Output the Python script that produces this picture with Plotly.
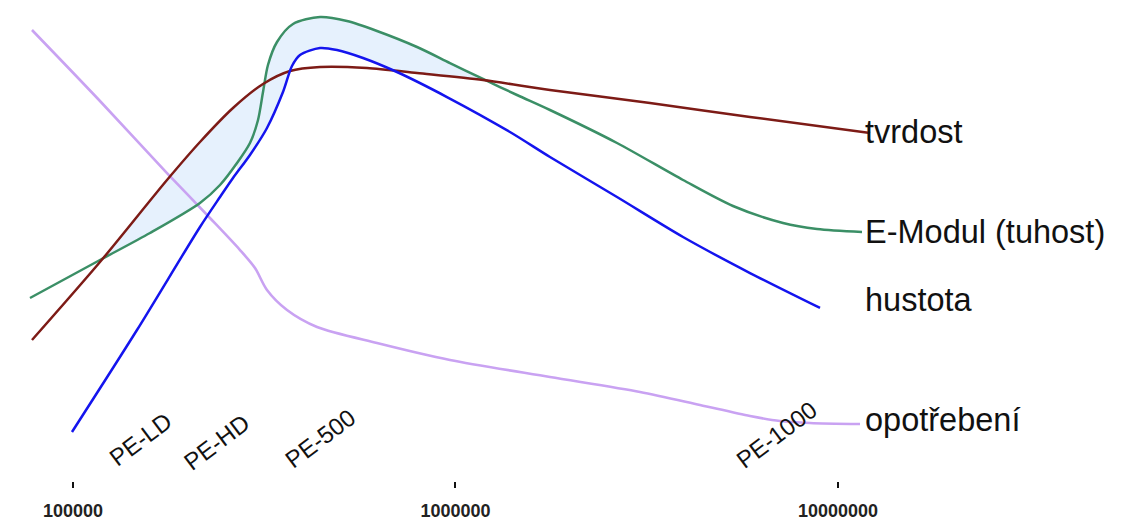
import numpy as np
import plotly.graph_objects as go

# ---- data (x: molecular weight, log axis; y: relative property value 0-100) ----
wear_x = [78130, 117640, 176100, 228100, 273300, 299100, 321500, 362700, 434500,
          623400, 967300, 1766000, 3037000, 4358000, 5888000, 7054000, 8450000, 11416000]
wear_y = [93.76, 79.0, 64.03, 54.68, 48.02, 44.28, 39.71, 35.55, 32.02,
          28.69, 25.16, 21.62, 18.50, 15.80, 13.51, 12.47, 12.06, 11.85]

emod_x = [77200, 117640, 159000, 214800, 242300, 268400, 290200, 304600, 313900, 323400,
          341500, 376000, 442400, 520300, 623400, 793300, 967300, 1180000, 1448000, 1766000,
          2644000, 3934000, 5315000, 7183000, 8814000, 11555000]
emod_y = [38.05, 45.95, 51.56, 57.80, 61.54, 66.11, 70.27, 75.05, 80.87, 86.49,
          91.27, 95.01, 96.47, 95.63, 93.56, 90.23, 86.90, 83.58, 80.25, 77.13,
          70.27, 62.58, 57.17, 53.64, 52.39, 51.77]

hard_x = [78130, 117640, 176100, 214800, 262000, 313900, 369300, 442400,
          587000, 793300, 1180000, 1766000, 3225000, 5888000, 12130000]
hard_y = [29.31, 45.53, 62.58, 70.48, 77.55, 82.54, 85.24, 86.07,
          85.86, 84.82, 83.37, 81.29, 78.59, 75.68, 72.35]

dens_x = [99400, 147000, 214800, 242300, 262000, 290200, 321500, 354000, 373700, 392200,
          442400, 490000, 573000, 703100, 950100, 1388000, 1766000, 2644000, 3934000,
          5888000, 8974000]
dens_y = [10.19, 31.39, 52.81, 59.04, 62.99, 67.78, 73.39, 80.87, 86.28, 88.57,
          90.02, 89.60, 87.94, 85.03, 79.83, 72.56, 67.36, 59.04, 50.73, 43.24, 35.97]

series_names = ["tvrdost", "E-Modul (tuhost)", "hustota", "opotřebení"]
grade_labels = ["PE-LD", "PE-HD", "PE-500", "PE-1000"]
grade_x = [149700, 236800, 442400, 6925000]
grade_y = [8.7, 8.1, 8.9, 9.6]
tick_vals = [100000, 1000000, 10000000]
tick_text = ["100000", "1000000", "10000000"]

# ---- highlighted region (derived from the curves) ----
lx = np.linspace(np.log10(100000), np.log10(1400000), 1500)
def curve(xs, ys):
    return np.interp(lx, np.log10(xs), ys)
R = curve(hard_x, hard_y)
G = curve(emod_x, emod_y)
B = curve(dens_x, dens_y)

def crossing(a, b, lo, hi):
    m = (lx >= np.log10(lo)) & (lx <= np.log10(hi))
    idx = np.where(m)[0]
    d = a[idx] - b[idx]
    s = np.where(np.sign(d[:-1]) != np.sign(d[1:]))[0]
    return lx[idx[s[0]]] if len(s) else lx[idx[np.argmin(np.abs(d))]]

x1 = crossing(R, G, 100000, 140000)
m2 = (lx >= np.log10(230000)) & (lx <= np.log10(300000))
i2 = np.where(m2)[0]
x2 = lx[i2[np.argmin((G - B)[i2])]]
x3 = crossing(R, B, 560000, 800000)
x4 = crossing(G, R, 1000000, 1350000)

sel = (lx >= x1) & (lx <= x4)
ux = lx[sel]
U = np.maximum(R, G)[sel]
L = np.where(lx < x2, G, np.where(lx < x3, B, R))[sel]
poly_x = np.concatenate([10 ** ux, 10 ** ux[::-1]])
poly_y = np.concatenate([U, L[::-1]])

fig = go.Figure()
fig.add_trace(go.Scatter(x=poly_x, y=poly_y, mode="lines", fill="toself",
                         fillcolor="#e6f1fd", line=dict(width=0), hoverinfo="skip",
                         showlegend=False))

styles = [
    (wear_x, wear_y, "#c9a2f2", 2.6, series_names[3]),
    (emod_x, emod_y, "#3b8f66", 2.5, series_names[1]),
    (hard_x, hard_y, "#7d1b16", 2.5, series_names[0]),
    (dens_x, dens_y, "#1414ee", 2.5, series_names[2]),
]
for xs, ys, col, w, nm in styles:
    fig.add_trace(go.Scatter(x=xs, y=ys, mode="lines", name=nm,
                             line=dict(color=col, width=w, shape="spline", smoothing=0.8),
                             showlegend=False))

# right-hand series labels
label_y = [72.6, 51.8, 37.7, 12.7]
for nm, yy in zip(series_names, label_y):
    fig.add_annotation(x=7.066, y=yy, xref="x", yref="y", text=nm, showarrow=False,
                       xanchor="left", yanchor="middle",
                       font=dict(family="Liberation Sans, Arial", size=32.5, color="#111111"))

# grade labels
for t, gx, gy in zip(grade_labels, grade_x, grade_y):
    fig.add_annotation(x=np.log10(gx), y=gy, xref="x", yref="y", text=t, showarrow=False,
                       textangle=-37, xanchor="center", yanchor="middle",
                       font=dict(family="Liberation Sans, Arial", size=24, color="#111111"))

# axis baseline between first and last tick
fig.add_shape(type="line", xref="x", yref="y", x0=5, x1=7, y0=0, y1=0,
              line=dict(color="#111111", width=1.5))

fig.update_layout(
    width=1131, height=529,
    margin=dict(l=0, r=0, t=0, b=48),
    paper_bgcolor="white", plot_bgcolor="white",
    xaxis=dict(type="log", range=[4.8092, 7.7660], showline=False, showgrid=False,
               zeroline=False, tickvals=tick_vals, ticktext=tick_text,
               ticks="outside", ticklen=6, tickwidth=1.5, tickcolor="#111111",
               ticklabelstandoff=7,
               tickfont=dict(family="Liberation Sans, Arial", size=18, color="#222222",
                             weight="bold")),
    yaxis=dict(range=[0, 100], visible=False),
)

fig.write_html("out.html")
